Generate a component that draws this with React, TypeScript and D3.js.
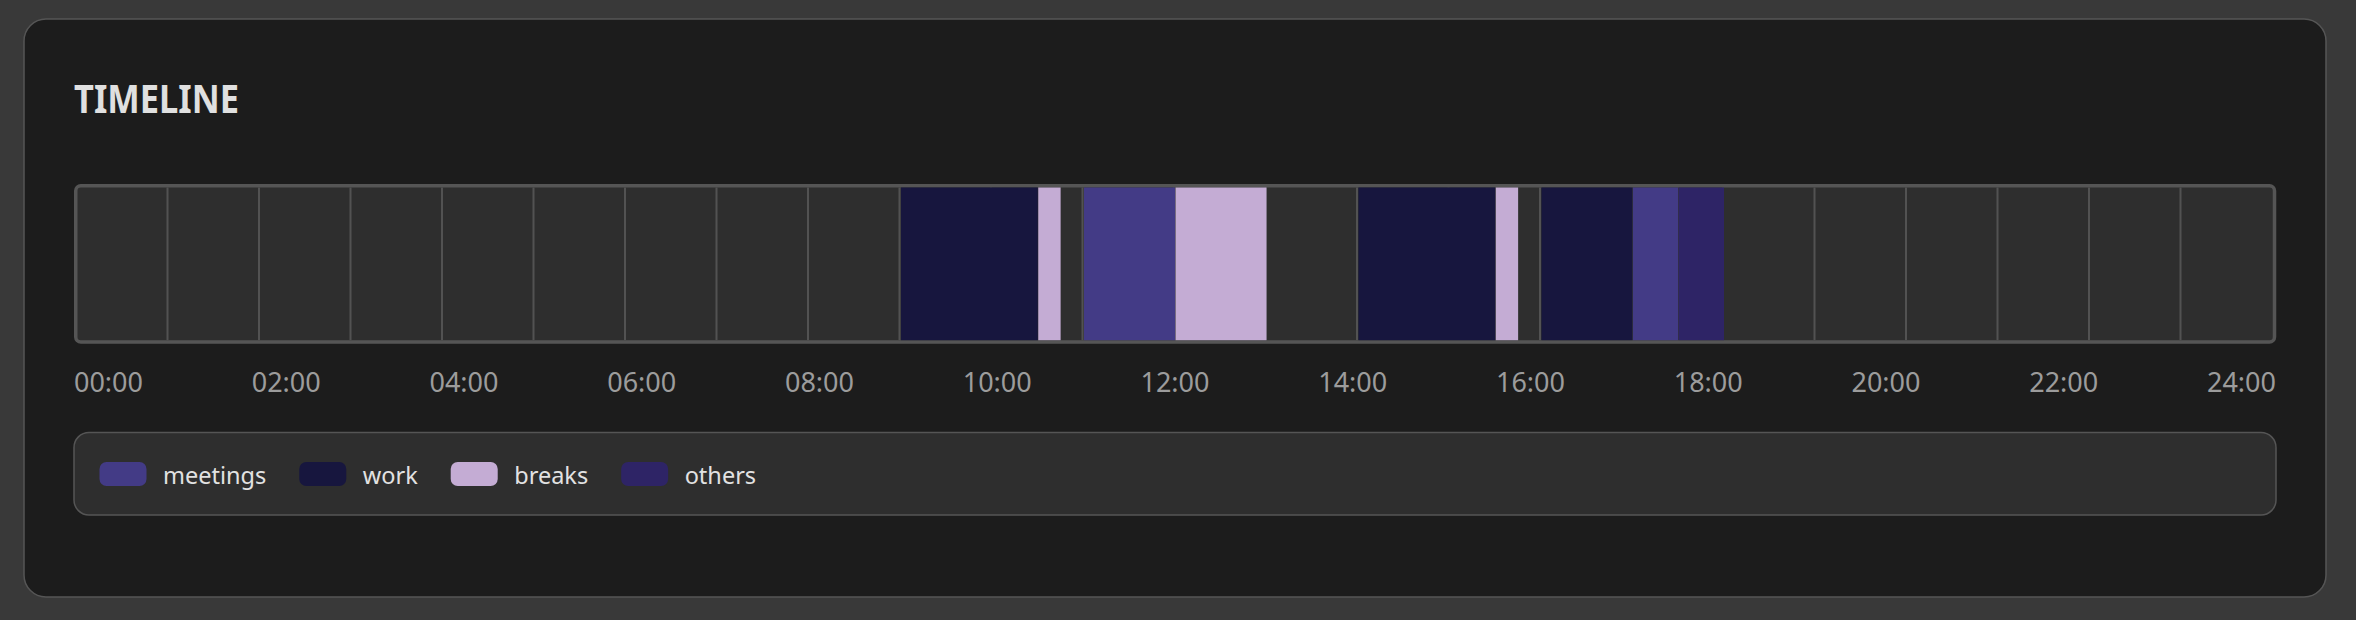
import React, { useEffect, useRef } from "react";
import { scaleLinear, scaleOrdinal, scalePoint, select } from "d3";

// categories + colours for the legend
const categories = ["meetings", "work", "breaks", "others"];
const categoryColors = ["#433b86", "#17163e", "#c4acd4", "#2e2466"];

// timeline segments (hours of the day)
const segStart = [9, 10.5, 11, 12, 14, 15.5, 16, 17, 17.5];
const segEnd = [10.5, 10.75, 12, 13, 15.5, 15.75, 17, 17.5, 18];
const segCategory = ["work", "breaks", "meetings", "breaks", "work", "breaks", "work", "meetings", "others"];

const tickLabels = ["00:00", "02:00", "04:00", "06:00", "08:00", "10:00", "12:00", "14:00", "16:00", "18:00", "20:00", "22:00", "24:00"];
const hours = [1, 2, 3, 4, 5, 6, 7, 8, 9, 10, 11, 12, 13, 14, 15, 16, 17, 18, 19, 20, 21, 22, 23];

const width = 2356;
const height = 620;
const FONT = "'Noto Sans', sans-serif";

const App = () => {
  const svgRef = useRef(null);

  useEffect(() => {
    const svg = select(svgRef.current);
    svg.selectAll("*").remove();

    // card
    svg.append("rect").attr("width", width).attr("height", height).attr("fill", "#393939");
    svg
      .append("rect")
      .attr("x", 24)
      .attr("y", 19)
      .attr("width", 2302)
      .attr("height", 578)
      .attr("rx", 22)
      .attr("fill", "#1c1c1c")
      .attr("stroke", "#555")
      .attr("stroke-width", 1.5);

    svg
      .append("text")
      .attr("x", 74)
      .attr("y", 113)
      .attr("font-family", FONT)
      .attr("font-weight", 700)
      .attr("font-size", 39)
      .attr("textLength", 165)
      .attr("lengthAdjust", "spacingAndGlyphs")
      .attr("fill", "#e0e0e0")
      .text("TIMELINE");

    // SCALES
    const xScale = scaleLinear().domain([0, 24]).range([76, 2272]);
    const color = scaleOrdinal().domain(categories).range(categoryColors);
    const top = 187.5;
    const bottom = 340.2;

    // track
    svg
      .append("rect")
      .attr("x", 75.75)
      .attr("y", 185.75)
      .attr("width", 2198.75)
      .attr("height", 156.2)
      .attr("rx", 5)
      .attr("fill", "#2e2e2e")
      .attr("stroke", "#555")
      .attr("stroke-width", 3.5);

    svg
      .selectAll(".grid")
      .data(hours)
      .join("rect")
      .attr("class", "grid")
      .attr("x", d => xScale(d) - 1)
      .attr("y", top)
      .attr("width", 2)
      .attr("height", bottom - top)
      .attr("fill", "#525252");

    // BARS
    const segs = segStart.map((s, i) => ({ s, e: segEnd[i], c: segCategory[i] }));
    svg
      .selectAll(".bar")
      .data(segs)
      .join("rect")
      .attr("class", "bar")
      .attr("x", d => xScale(d.s) + 1.5)
      .attr("y", top)
      .attr("width", d => xScale(d.e) - xScale(d.s) - 0.5)
      .attr("height", bottom - top)
      .attr("fill", d => color(d.c));

    // tick labels, spread like flex space-between
    const labelW = 69;
    const xLabel = scalePoint().domain(tickLabels).range([74 + labelW / 2, 2276 - labelW / 2]);
    svg
      .selectAll(".tick-label")
      .data(tickLabels)
      .join("text")
      .attr("class", "tick-label")
      .attr("x", d => xLabel(d))
      .attr("y", 392)
      .attr("text-anchor", "middle")
      .attr("font-family", FONT)
      .attr("font-size", 27)
      .attr("fill", "#9c9c9c")
      .text(d => d);

    // LEGEND
    svg
      .append("rect")
      .attr("x", 74)
      .attr("y", 432.5)
      .attr("width", 2202)
      .attr("height", 82.5)
      .attr("rx", 15)
      .attr("fill", "#2e2e2e")
      .attr("stroke", "#555")
      .attr("stroke-width", 1.5);

    let cx = 99.5;
    categories.forEach(c => {
      svg
        .append("rect")
        .attr("x", cx)
        .attr("y", 462)
        .attr("width", 47)
        .attr("height", 24)
        .attr("rx", 7)
        .attr("fill", color(c));
      const t = svg
        .append("text")
        .attr("x", cx + 47 + 16.5)
        .attr("y", 484)
        .attr("font-family", FONT)
        .attr("font-size", 23.5)
        .attr("fill", "#e2e2e2")
        .text(c);
      const w = t.node().getComputedTextLength();
      cx = cx + 47 + 16.5 + w + 33;
    });
  }, []);

  return (
    <svg
      ref={svgRef}
      width={width}
      height={height}
      style={{ position: "absolute", left: 0, top: 0, display: "block" }}
    />
  );
};

export default App;
